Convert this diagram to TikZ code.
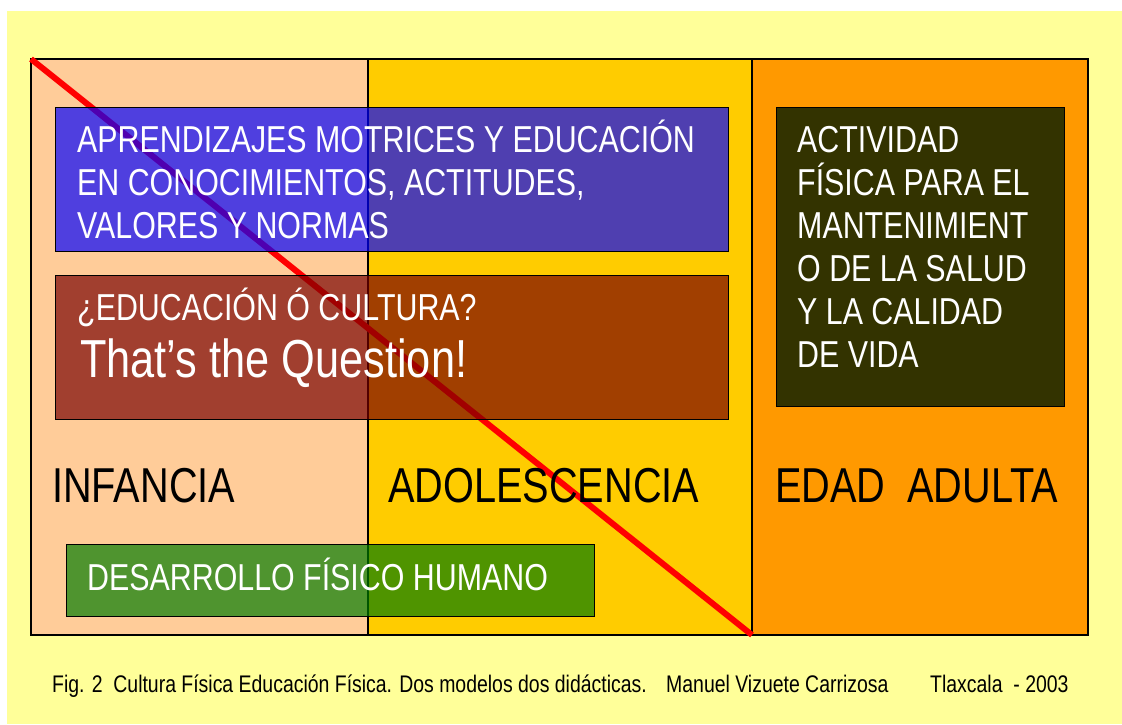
\documentclass[tikz,border=0pt]{standalone}
\usepackage{fontspec}
\setmainfont[FakeStretch=0.81]{Liberation Sans}
\usetikzlibrary{positioning}
\definecolor{fondo}{HTML}{FFFF99}
\definecolor{melocoton}{HTML}{FFCC99}
\definecolor{oro}{HTML}{FFCC00}
\definecolor{naranja}{HTML}{FF9900}
\definecolor{oliva}{HTML}{333300}
\definecolor{marron}{RGB}{120,0,0}
\definecolor{verde}{RGB}{0,124,0}

\begin{document}
\begin{tikzpicture}[x=1pt, y=-1pt, inner sep=0pt,
  zona/.style={draw, line width=1.4pt, outer sep=0pt, minimum height=576pt},
  panel/.style={draw, line width=1.2pt, anchor=north west, fill opacity=0.69, draw opacity=1},
  rotulo/.style={anchor=base west, align=left, text=white, font=\fontsize{37.5}{43}\selectfont},
  etapa/.style={anchor=base west, font=\fontsize{49}{54}\selectfont},
  pie/.style={anchor=base west, font=\fontsize{24}{28}\selectfont}]
  \useasboundingbox (0,0) rectangle (1122,724);
  \fill[fondo] (7,11) rectangle (1122,724);
  \node[zona, fill=melocoton, anchor=north west, minimum width=337pt] (c1) at (31,59) {};
  \node[zona, fill=oro, minimum width=384pt] (c2) [right=0pt of c1] {};
  \node[zona, fill=naranja, minimum width=336pt] (c3) [right=0pt of c2] {};
  \draw[red, line width=6pt] (c1.north west) -- (c2.south east);
  \node[etapa] (inf) at (52,502) {INFANCIA};
  \node[etapa] (ado) at (388,502) {ADOLESCENCIA};
  \node[etapa] (adu) at (775,502) {EDAD\ \ ADULTA};
  \node[panel, fill=blue, minimum width=673pt, minimum height=144pt] (apr) at (55,107) {};
  \node[panel, fill=marron, minimum width=673pt, minimum height=144pt] (edu) at (55,275) {};
  \node[panel, fill=verde, minimum width=528pt, minimum height=72pt] (des) at (66,544) {};
  \node[draw, line width=1.2pt, anchor=north west, fill=oliva, minimum width=288pt, minimum height=299pt] (act) at (776,107) {};
  \node[rotulo] (tapr) at (77,238) {APRENDIZAJES MOTRICES Y EDUCACIÓN\\EN CONOCIMIENTOS, ACTITUDES,\\VALORES Y NORMAS};
  \node[rotulo] (tedu) at (77,320) {¿EDUCACIÓN Ó CULTURA?};
  \node[rotulo, font=\fontsize{53.5}{58}\selectfont] (tque) at (80,377) {That’s the Question!};
  \node[rotulo] (tdes) at (87,590) {DESARROLLO FÍSICO HUMANO};
  \node[rotulo] (tact) at (797,367) {ACTIVIDAD\\FÍSICA PARA EL\\MANTENIMIENT\\O DE LA SALUD\\Y LA CALIDAD\\DE VIDA};
  \node[pie] (fig) at (52,692) {Fig. 2\ \ Cultura Física Educación Física. Dos modelos dos didácticas.};
  \node[pie] (aut) at (666,692) {Manuel Vizuete Carrizosa};
  \node[pie] (lug) at (930,692) {Tlaxcala\ \ - 2003};
\end{tikzpicture}
\end{document}
